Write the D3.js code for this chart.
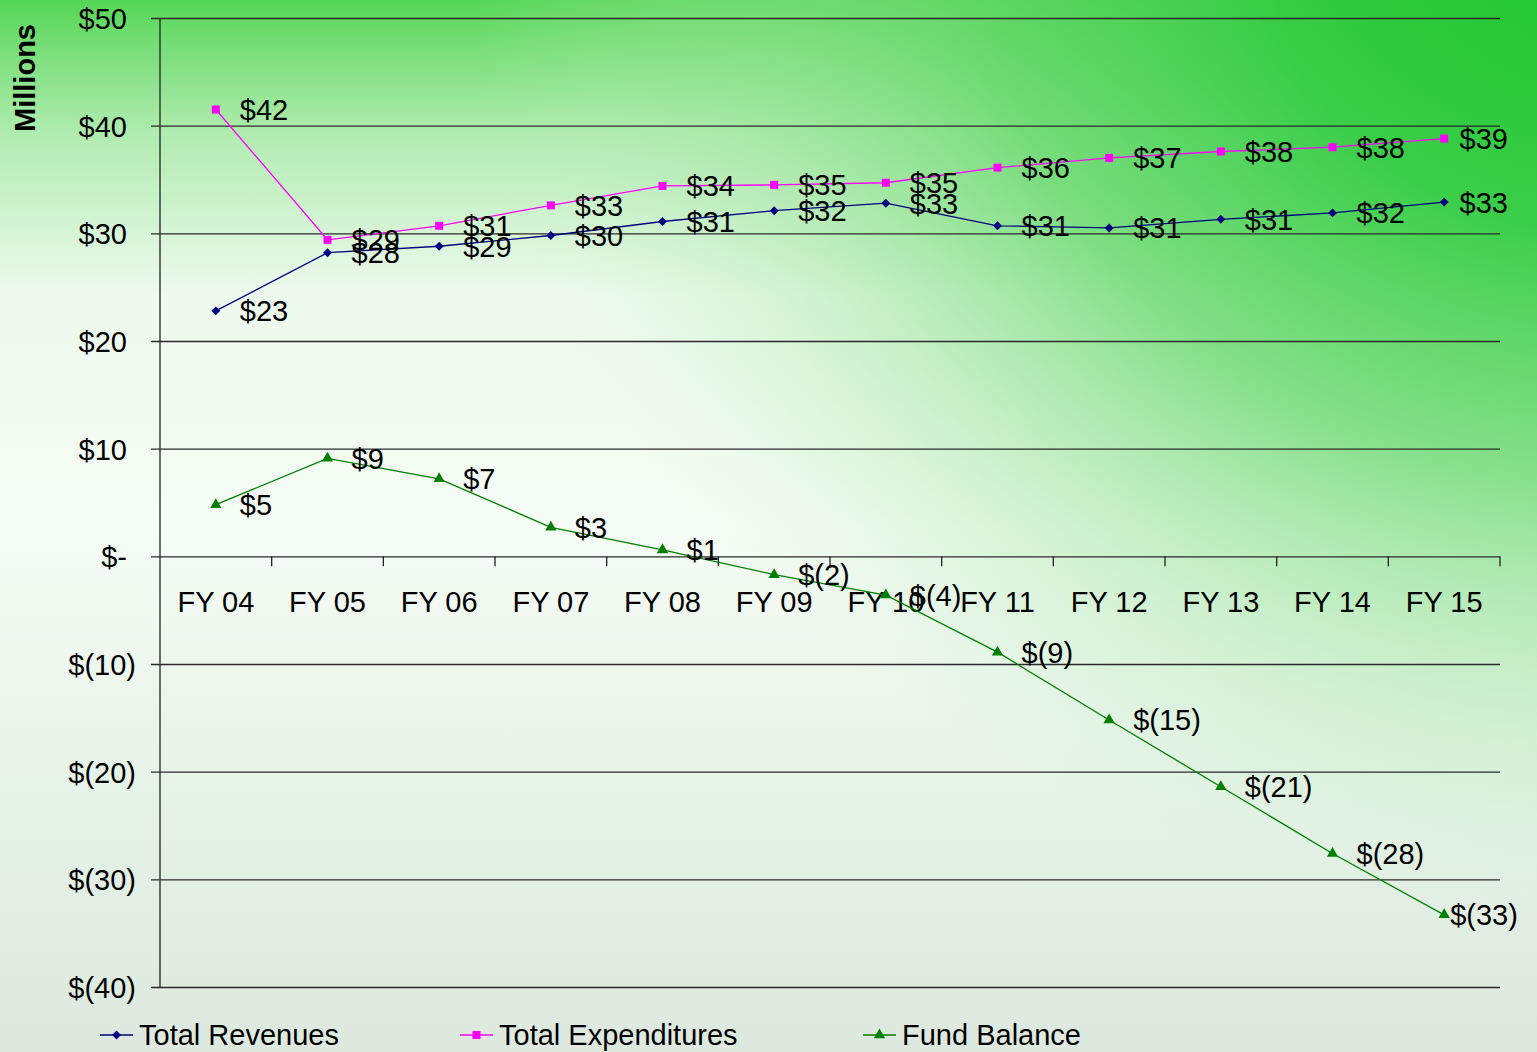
<!DOCTYPE html>
<html><head><meta charset="utf-8">
<script src="https://cdn.jsdelivr.net/npm/d3@7"></script>
<style>
html,body{margin:0;padding:0;overflow:hidden;background:#fff;}
svg{display:block;font-family:"Liberation Sans",Arial,sans-serif;}
</style></head>
<body>
<svg id="chart" width="1537" height="1052"></svg>
<script>
const categories = ["FY 04","FY 05","FY 06","FY 07","FY 08","FY 09","FY 10","FY 11","FY 12","FY 13","FY 14","FY 15"];
const totalRevenues = [22.8, 28.2, 28.8, 29.8, 31.1, 32.1, 32.8, 30.7, 30.5, 31.3, 31.9, 32.9];
const totalExpenditures = [41.5, 29.4, 30.7, 32.6, 34.4, 34.5, 34.7, 36.1, 37.0, 37.6, 38.0, 38.8];
const fundBalance = [4.8, 9.1, 7.2, 2.7, 0.6, -1.7, -3.6, -8.9, -15.2, -21.4, -27.6, -33.3];
const yTicks = [50, 40, 30, 20, 10, 0, -10, -20, -30, -40];
const seriesNames = ["Total Revenues", "Total Expenditures", "Fund Balance"];

const W = 1537, H = 1052;
const svg = d3.select("#chart");
const defs = svg.append("defs");

// background
const lg = defs.append("linearGradient").attr("id","bgv").attr("x1",0).attr("y1",0).attr("x2",0).attr("y2",1);
[[0,"#55d655"],[0.04,"#74dd74"],[0.13,"#b2ecb2"],[0.28,"#eefaee"],[0.5,"#f6fcf6"],[0.75,"#e6f3e8"],[1,"#dde9df"]]
  .forEach(s=>lg.append("stop").attr("offset",s[0]).attr("stop-color",s[1]));
svg.append("rect").attr("width",W).attr("height",H).attr("fill","url(#bgv)");

const rg = defs.append("radialGradient").attr("id","bgr").attr("gradientUnits","userSpaceOnUse")
  .attr("cx",1620).attr("cy",-60).attr("r",1150)
  .attr("gradientTransform","translate(1620,-60) scale(1,0.85) rotate(25) translate(-1620,60)");
[[0,"#1ec52e",1],[0.3,"#33cc42",0.95],[0.55,"#60d666",0.75],[0.8,"#9ee49e",0.35],[1,"#c8f0c8",0]]
  .forEach(s=>rg.append("stop").attr("offset",s[0]).attr("stop-color",s[1]).attr("stop-opacity",s[2]));
svg.append("rect").attr("width",W).attr("height",H).attr("fill","url(#bgr)");

// scales
const plotL = 160, plotR = 1500, plotT = 18, plotB = 987;
const x = d3.scaleBand().domain(categories).range([plotL, plotR]).padding(0);
const cx = d => x(d) + x.bandwidth()/2;
const y = d3.scaleLinear().domain([-40, 50]).range([plotB, plotT]);

const FS = 29;

// gridlines (y axis ticks)
const yAxis = d3.axisLeft(y).tickValues(yTicks).tickSize(-(plotR - 151)).tickPadding(0)
  .tickFormat(v => v === 0 ? "$-" : (v < 0 ? "$(" + Math.abs(v) + ")" : "$" + v));
const gy = svg.append("g").attr("transform", `translate(${151},0)`).call(yAxis);
gy.select(".domain").remove();
gy.selectAll(".tick line").attr("stroke","#2a2a2a").attr("stroke-width",1.3).attr("x2", plotR - 151);
gy.selectAll(".tick text")
  .attr("font-size", FS).attr("fill","#000")
  .attr("x", v => v < 0 ? -15 : -24)
  .attr("dy","0.36em");

// vertical axis line
svg.append("line").attr("x1",plotL).attr("x2",plotL).attr("y1",plotT).attr("y2",plotB)
  .attr("stroke","#222").attr("stroke-width",1.3);

// x axis at zero with ticks at category boundaries
const xAxis = d3.axisBottom(x).tickSize(0).tickPadding(0);
const gx = svg.append("g").attr("transform",`translate(0,${y(0)})`).call(xAxis);
gx.select(".domain").remove();
gx.selectAll(".tick text").attr("font-size",FS).attr("fill","#000").attr("y",45).attr("dy","0.36em");
svg.append("g").selectAll("line").data(categories).join("line")
  .attr("x1", d => x(d) + x.bandwidth()).attr("x2", d => x(d) + x.bandwidth())
  .attr("y1", y(0)).attr("y2", y(0) + 10).attr("stroke","#222").attr("stroke-width",1.3);

// series
const diamond = { draw(ctx, size) { const r = Math.sqrt(size/2); ctx.moveTo(0,-r); ctx.lineTo(r,0); ctx.lineTo(0,r); ctx.lineTo(-r,0); ctx.closePath(); } };
const series = [
  {name: seriesNames[0], values: totalRevenues, color: "#000080", shape: diamond, size: 40},
  {name: seriesNames[1], values: totalExpenditures, color: "#ff00ff", shape: d3.symbolSquare, size: 64},
  {name: seriesNames[2], values: fundBalance, color: "#008000", shape: d3.symbolTriangle, size: 55}
];
const fmt = v => { const r = Math.round(v); return r < 0 ? "$(" + Math.abs(r) + ")" : "$" + r; };

const line = d3.line().x((d,i) => cx(categories[i])).y(d => y(d));
series.forEach(s => {
  svg.append("path").datum(s.values).attr("d", line).attr("fill","none")
    .attr("stroke", s.color).attr("stroke-width",1.3);
  svg.append("g").selectAll("path").data(s.values).join("path")
    .attr("d", d3.symbol().type(s.shape).size(s.size))
    .attr("transform",(d,i)=>`translate(${cx(categories[i])},${y(d)})`)
    .attr("fill", s.color);
});
// labels
series.forEach(s => {
  svg.append("g").selectAll("text").data(s.values).join("text")
    .attr("x",(d,i)=>cx(categories[i]) + 24)
    .attr("y",d=>y(d)).attr("dy","0.36em")
    .attr("font-size",FS).attr("fill","#000")
    .text(d=>fmt(d))
    .each(function(){
      const bb = this.getBBox();
      const limit = 1508;
      if (bb.x + bb.width > limit) d3.select(this).attr("x", Math.max(limit - bb.width, +d3.select(this).attr("x") - 18));
    });
});

// y title
svg.append("text").attr("transform","translate(35,78) rotate(-90)")
  .attr("text-anchor","middle").attr("font-size",FS).attr("font-weight","bold").attr("fill","#000")
  .text("Millions");

// legend
const legX = [100, 460, 863];
const lgg = svg.append("g");
series.forEach((s,i) => {
  const g = lgg.append("g").attr("transform",`translate(${legX[i]},1035)`);
  g.append("line").attr("x1",0).attr("x2",33).attr("y1",0).attr("y2",0).attr("stroke",s.color).attr("stroke-width",1.5);
  g.append("path").attr("d", d3.symbol().type(s.shape).size(s.size)).attr("transform","translate(16.5,0)").attr("fill",s.color);
  g.append("text").attr("x",39).attr("dy","0.36em").attr("font-size",FS).attr("fill","#000").text(s.name);
});
</script>
</body></html>
